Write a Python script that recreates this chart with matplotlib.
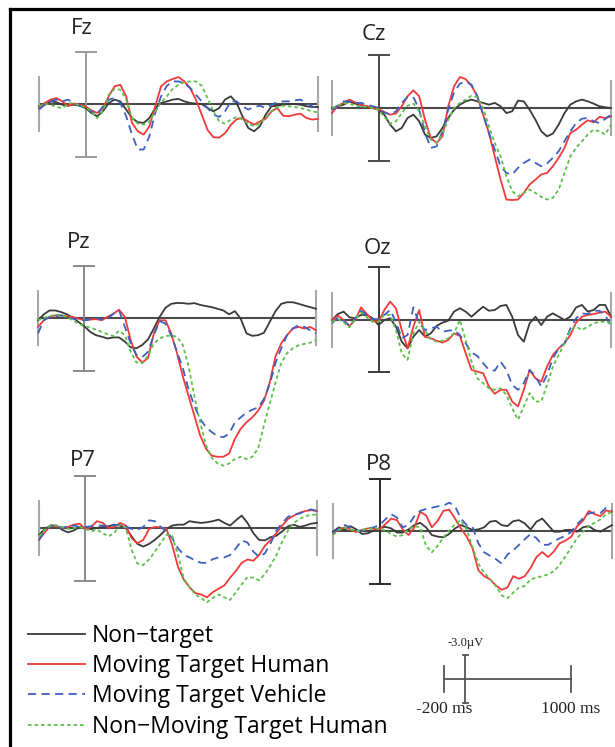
import numpy as np
import matplotlib
matplotlib.use("Agg")
import matplotlib.pyplot as plt
from matplotlib.lines import Line2D

# ---------------- data (µV, negative plotted upward) ----------------
time_ms = list(range(-200, 1001, 25))

labels = ["Non\u2212target", "Moving Target Human", "Moving Target Vehicle", "Non\u2212Moving Target Human"]
channels = ["Fz", "Cz", "Pz", "Oz", "P7", "P8"]

fz_nontarget = [0.13, 0.04, -0.15, -0.10, 0.04, 0.10, 0.04, 0.10, 0.23, 0.51, 0.70, 0.42, -0.06, -0.25, -0.15, 0.32, 0.80, 1.04, 1.08, 0.80, 0.23, -0.06, -0.15, -0.25, -0.29, -0.15, -0.06, -0.02, 0.0, 0.23, 0.42, 0.23, -0.25, -0.44, -0.06, 0.70, 1.37, 1.56, 1.27, 0.61, 0.13, 0.10, 0.04, 0.0, 0.0, 0.04, 0.13, 0.17, 0.17]
fz_mt_human = [0.23, -0.06, -0.25, -0.34, -0.15, 0.10, -0.02, 0.04, 0.13, 0.36, 0.51, 0.23, -0.44, -1.01, -1.10, -0.44, 1.08, 1.56, 1.75, 1.27, 0.13, -1.01, -1.29, -1.43, -1.54, -1.29, -0.91, -0.25, 0.61, 1.48, 1.90, 1.92, 1.67, 1.20, 0.87, 0.80, 1.00, 1.18, 1.00, 0.84, 0.42, 0.23, 0.67, 0.70, 0.61, 0.55, 0.80, 0.89, 0.85]
fz_mt_vehicle = [0.32, 0.04, -0.15, -0.25, -0.15, -0.25, -0.06, 0.10, 0.23, 0.42, 0.61, 0.13, -0.25, -0.34, -0.06, 0.70, 1.75, 2.60, 2.60, 1.84, 0.51, -0.44, -1.04, -1.29, -1.29, -1.20, -0.91, -0.53, -0.15, 0.23, 0.61, 0.74, 0.42, -0.15, -0.15, 0.13, 0.32, 0.17, 0.10, 0.23, 0.04, -0.10, -0.15, -0.15, -0.21, -0.25, -0.06, 0.13, 0.29]
fz_nmt_human = [0.13, -0.02, 0.04, 0.17, 0.23, -0.02, -0.06, 0.10, 0.17, 0.42, 0.80, 0.42, -0.53, -0.86, -0.82, -0.25, 0.80, 1.12, 1.18, 0.99, 0.42, -0.10, -0.44, -0.86, -1.10, -1.24, -1.29, -1.29, -1.04, -0.34, 0.42, 0.99, 1.12, 0.89, 0.74, 0.89, 1.12, 1.27, 1.12, 0.80, 0.42, 0.17, 0.10, 0.13, 0.17, 0.23, 0.32, 0.42, 0.48]

cz_nontarget = [0.0, -0.10, -0.19, -0.38, -0.25, -0.15, -0.10, 0.0, 0.10, 0.38, 0.95, 1.33, 1.14, 0.57, 0.38, 0.76, 1.52, 1.71, 1.62, 1.14, 0.57, 0.10, -0.19, -0.38, -0.48, -0.38, -0.29, -0.19, -0.29, -0.10, 0.29, 0.19, -0.42, -0.38, 0.10, 0.67, 1.33, 1.62, 1.46, 0.95, 0.29, -0.19, -0.38, -0.48, -0.38, -0.25, -0.10, -0.04, 0.0]
cz_mt_human = [0.29, -0.13, -0.29, -0.48, -0.32, -0.19, -0.10, 0.0, 0.06, 0.23, 0.38, 0.32, -0.10, -0.67, -1.01, -0.67, 0.67, 1.71, 2.00, 1.62, -0.10, -1.24, -1.77, -1.65, -1.27, -0.67, 0.38, 1.43, 2.76, 4.09, 5.23, 5.26, 5.23, 4.85, 4.37, 4.09, 3.80, 3.71, 3.33, 2.85, 2.28, 1.43, 1.24, 0.95, 0.70, 0.82, 0.51, 0.57, 0.48]
cz_mt_vehicle = [0.10, -0.13, -0.38, -0.38, -0.29, -0.29, -0.19, -0.10, 0.0, 0.25, 0.38, 0.19, -0.29, -0.63, -0.63, 0.10, 1.43, 2.28, 2.19, 1.33, 0.10, -0.89, -1.39, -1.52, -1.33, -0.67, 0.38, 1.43, 2.38, 3.33, 3.71, 3.80, 3.42, 3.14, 2.95, 3.14, 3.33, 3.17, 2.85, 2.47, 1.90, 1.33, 0.86, 0.61, 0.57, 0.76, 0.86, 0.63, 0.38]
cz_nmt_human = [0.0, -0.13, -0.29, -0.25, -0.13, -0.10, -0.06, 0.0, 0.10, 0.51, 0.89, 0.76, 0.29, -0.13, -0.25, 0.19, 1.05, 1.81, 1.96, 1.52, 0.67, 0.0, -0.29, -0.48, -0.70, -0.63, 0.0, 1.05, 2.00, 2.76, 3.90, 4.75, 5.04, 4.85, 4.66, 4.85, 5.08, 5.23, 5.13, 4.66, 3.71, 2.76, 2.28, 1.90, 1.52, 1.24, 1.33, 1.52, 0.95]

pz_nontarget = [0.13, -0.21, -0.43, -0.43, -0.34, -0.21, -0.02, 0.23, 0.47, 0.79, 0.98, 1.07, 1.17, 1.11, 1.11, 1.35, 1.67, 1.73, 1.54, 1.22, 0.60, -0.06, -0.58, -0.81, -0.86, -0.85, -0.81, -0.85, -0.75, -0.68, -0.62, -0.53, -0.43, -0.21, -0.39, 0.04, 0.88, 1.02, 0.98, 0.85, 0.23, -0.39, -0.81, -0.90, -0.90, -0.81, -0.71, -0.62, -0.53]
pz_mt_human = [0.51, 0.13, -0.06, -0.15, -0.15, -0.09, -0.06, 0.04, 0.13, 0.09, 0.06, 0.13, -0.06, -0.24, -0.47, -0.06, 1.26, 2.20, 2.54, 2.29, 0.88, 0.13, 0.13, 0.88, 2.01, 3.33, 4.46, 5.58, 6.71, 7.46, 7.87, 7.93, 7.93, 7.74, 6.90, 6.33, 5.96, 5.68, 5.30, 4.74, 3.70, 2.20, 1.45, 0.98, 0.60, 0.51, 0.60, 0.51, 0.70]
pz_mt_vehicle = [0.88, 0.13, -0.06, -0.09, -0.15, -0.06, 0.04, 0.09, 0.13, 0.08, -0.02, 0.09, 0.04, -0.24, -0.43, 0.51, 1.45, 2.11, 2.24, 1.92, 0.98, 0.17, 0.32, 0.98, 1.92, 2.86, 4.08, 5.02, 5.77, 6.24, 6.52, 6.75, 6.81, 6.62, 5.96, 5.68, 5.40, 5.24, 5.11, 4.64, 3.80, 2.58, 1.73, 0.98, 0.60, 0.41, 0.51, 0.70, 0.88]
pz_nmt_human = [0.13, -0.02, -0.09, -0.21, -0.15, -0.06, 0.13, 0.32, 0.47, 0.55, 0.66, 0.79, 0.92, 1.03, 0.73, 0.98, 1.92, 2.54, 2.58, 2.16, 1.45, 1.17, 1.03, 1.00, 1.07, 1.54, 2.76, 4.46, 5.96, 7.27, 7.99, 8.31, 8.44, 8.31, 8.06, 7.93, 8.06, 7.93, 7.46, 6.15, 4.92, 3.70, 2.58, 2.01, 1.73, 1.56, 1.48, 1.41, 1.26]

oz_nontarget = [0.0, -0.34, -0.48, -0.15, -0.10, -0.29, -0.29, -0.10, 0.29, 0.0, -0.10, 0.38, 1.24, 1.62, 0.95, 0.57, 0.95, 0.76, 0.34, 0.15, 0.04, -0.48, -0.67, -0.48, -0.19, -0.48, -0.76, -0.53, -0.57, -0.80, -0.86, -0.19, 0.86, 1.24, 0.19, -0.19, 0.29, -0.19, -0.38, -0.19, 0.0, -0.19, -0.72, -0.86, -0.48, -0.57, -0.86, -0.86, -0.19]
oz_mt_human = [0.0, -0.25, 0.0, 0.34, 0.0, -0.72, -0.34, 0.04, 0.10, -0.57, -1.05, -0.67, 0.57, 1.62, 0.38, -0.57, 0.95, 1.05, 1.18, 1.29, 1.14, 0.76, 0.91, 1.90, 2.85, 2.95, 3.04, 3.80, 4.22, 3.99, 3.99, 4.66, 4.94, 3.99, 2.85, 3.33, 3.52, 2.66, 2.00, 1.62, 1.33, 0.86, 0.15, -0.19, -0.29, -0.34, -0.42, -0.48, -0.19]
oz_mt_vehicle = [0.19, -0.15, 0.04, 0.34, -0.10, -0.53, -0.29, -0.06, -0.04, -0.29, -0.57, 0.10, 1.05, 0.86, -0.72, 0.19, 0.57, 0.48, 0.38, 0.67, 0.61, 0.57, 0.86, 1.33, 1.86, 2.05, 2.47, 2.85, 2.89, 2.38, 2.85, 3.71, 3.99, 3.61, 2.85, 3.23, 3.80, 3.14, 2.19, 1.62, 1.33, 0.48, -0.10, -0.38, -0.34, -0.53, -0.53, -0.29, 0.38]
oz_nmt_human = [0.10, -0.06, 0.13, 0.42, -0.06, -0.42, -0.15, 0.10, 0.10, -0.29, -0.29, 0.57, 1.90, 2.28, 0.76, 0.10, 0.57, 1.10, 1.24, 1.18, 1.05, 0.76, 0.0, 1.14, 2.38, 3.33, 3.61, 3.90, 3.99, 3.90, 4.28, 5.04, 5.70, 4.94, 4.18, 4.66, 4.66, 3.71, 2.66, 2.00, 1.33, 0.57, 0.38, 0.57, 0.38, 0.19, 0.10, 0.10, 0.19]

p7_nontarget = [0.39, 0.06, -0.14, -0.14, 0.10, 0.25, 0.14, -0.06, 0.0, 0.06, 0.0, -0.06, -0.10, -0.19, -0.14, 0.0, 0.48, 0.91, 1.06, 0.91, 0.68, 0.39, 0.06, -0.14, -0.19, -0.19, -0.39, -0.33, -0.29, -0.33, -0.39, -0.48, -0.29, -0.14, -0.44, -0.71, -0.29, 0.29, 0.68, 0.71, 0.52, 0.44, 0.19, -0.10, -0.19, -0.06, -0.14, -0.25, -0.29]
p7_mt_human = [0.68, 0.25, -0.14, -0.10, 0.0, -0.06, -0.19, -0.25, 0.06, -0.06, -0.39, -0.29, 0.0, -0.06, -0.29, -0.14, 0.58, 0.87, 0.68, 0.06, -0.06, -0.04, 0.06, 0.97, 2.22, 2.95, 3.38, 3.72, 3.80, 3.96, 3.67, 3.47, 3.28, 2.84, 2.45, 1.99, 1.80, 1.87, 1.54, 1.02, 0.68, 0.29, -0.14, -0.52, -0.71, -0.87, -0.97, -1.02, -0.97]
p7_mt_vehicle = [0.68, 0.14, -0.14, -0.10, 0.0, -0.10, -0.14, -0.06, -0.06, -0.10, -0.14, -0.14, -0.06, -0.17, -0.17, -0.10, 0.06, 0.10, -0.06, -0.44, -0.39, -0.06, 0.19, 0.58, 1.16, 1.54, 1.68, 1.87, 1.99, 1.99, 1.78, 1.68, 1.68, 1.54, 1.16, 0.71, 0.83, 1.35, 1.64, 1.45, 0.87, 0.14, -0.29, -0.64, -0.75, -0.83, -0.97, -1.06, -0.97]
p7_nmt_human = [0.48, 0.10, -0.14, -0.14, -0.06, 0.06, 0.0, -0.06, 0.06, 0.19, 0.10, 0.29, 0.48, 0.29, -0.19, 0.0, 1.25, 2.03, 2.12, 1.80, 1.35, 0.87, 0.39, 0.44, 1.54, 2.90, 3.38, 3.80, 4.00, 4.25, 4.00, 3.80, 3.96, 4.11, 3.67, 3.22, 2.80, 2.84, 2.99, 2.64, 2.12, 1.54, 0.77, 0.14, -0.29, -0.52, -0.68, -0.75, -0.77]

p8_nontarget = [0.04, -0.21, -0.06, -0.28, -0.09, 0.17, 0.13, -0.02, -0.15, -0.24, -0.15, 0.09, 0.09, -0.09, -0.34, -0.47, -0.21, 0.23, 0.32, 0.36, 0.17, -0.15, -0.34, -0.21, -0.06, -0.09, -0.21, -0.53, -0.58, -0.34, -0.28, -0.56, -0.62, -0.43, -0.09, -0.53, -0.71, -0.34, 0.04, 0.04, -0.06, -0.06, 0.04, -0.21, -0.28, -0.06, 0.04, -0.15, -0.34]
p8_mt_human = [0.13, -0.09, -0.21, -0.09, 0.06, -0.06, -0.15, -0.13, -0.09, -0.39, -0.71, -0.62, -0.09, 0.23, -0.21, -1.09, -0.90, -0.21, -0.58, -1.15, -1.22, -0.71, -0.15, 0.32, 0.98, 2.24, 2.58, 2.76, 3.10, 3.36, 3.23, 2.58, 2.73, 2.58, 2.11, 1.49, 1.20, 1.49, 1.17, 0.70, 0.55, 0.32, -0.28, -0.58, -1.15, -0.96, -0.85, -1.18, -1.09]
p8_mt_vehicle = [0.13, -0.15, -0.34, -0.21, -0.02, -0.02, -0.15, -0.21, -0.34, -0.66, -0.96, -0.77, -0.21, -0.34, -0.85, -1.15, -1.26, -1.33, -1.41, -1.45, -1.62, -1.41, -0.71, -0.34, -0.24, 0.70, 1.22, 1.41, 1.60, 1.86, 1.35, 1.11, 0.79, 0.47, 0.17, 0.41, 0.79, 0.79, 0.60, 0.41, 0.28, 0.04, -0.39, -0.71, -1.00, -1.07, -1.03, -1.33, -1.18]
p8_nmt_human = [0.23, -0.06, -0.19, -0.09, 0.02, -0.06, -0.13, -0.17, -0.13, -0.02, 0.17, 0.32, 0.23, -0.09, -0.28, -0.21, 0.85, 1.22, 0.85, 0.36, -0.02, -0.39, -0.62, -0.09, 0.92, 1.86, 2.39, 2.73, 3.14, 3.67, 3.85, 3.52, 3.23, 3.14, 2.76, 2.67, 2.58, 2.48, 2.30, 1.92, 1.45, 0.92, 0.41, 0.04, -0.28, -0.47, -0.66, -0.96, -1.09]

series_by_channel = {
    "Fz": [fz_nontarget, fz_mt_human, fz_mt_vehicle, fz_nmt_human],
    "Cz": [cz_nontarget, cz_mt_human, cz_mt_vehicle, cz_nmt_human],
    "Pz": [pz_nontarget, pz_mt_human, pz_mt_vehicle, pz_nmt_human],
    "Oz": [oz_nontarget, oz_mt_human, oz_mt_vehicle, oz_nmt_human],
    "P7": [p7_nontarget, p7_mt_human, p7_mt_vehicle, p7_nmt_human],
    "P8": [p8_nontarget, p8_mt_human, p8_mt_vehicle, p8_nmt_human],
}

# ---------------- styling / layout ----------------
W, H = 615, 747
DPI = 100
PX_PER_UV = 17.5
colors = ["#3a3a3a", "#f03a3a", "#3f5fc0", "#5cc04a"]
styles = [dict(ls="-"), dict(ls="-"), dict(ls=(0, (4.5, 3))), dict(ls=(0, (2.0, 1.6)))]
LW = 1.3

# panel geometry in pixels: x_left, x_right, baseline_y, axis colour, title gap above cap, title dx
panels = {
    "Fz": (39, 318, 104, "#9a9a9a", 17, -4),
    "Cz": (332, 611, 108, "#4a4a4a", 15, -5),
    "Pz": (38, 316, 318, "#8a8a8a", 18, -6),
    "Oz": (332, 611, 320, "#3a3a3a", 13, -1),
    "P7": (39, 317, 528, "#8a8a8a", 9, -2),
    "P8": (333, 612, 531, "#2a2a2a", 9, -1),
}

plt.rcParams["font.family"] = ["Open Sans", "DejaVu Sans"]
fig = plt.figure(figsize=(W / DPI, H / DPI), dpi=DPI)
fig.patch.set_facecolor("white")

# outer frame (top and left edges)
fig.add_artist(Line2D([10 / W, 1.0], [1 - 9 / H, 1 - 9 / H], color="black", lw=2.3, transform=fig.transFigure))
fig.add_artist(Line2D([10 / W, 10 / W], [1 - 9 / H, 0.0], color="black", lw=2.3, transform=fig.transFigure))

UV_TOP, UV_BOT = -5.0, 9.0
cap_ms = 10 * 1200 / 279.0
ms_per_px = 1200 / 279.0

for ch in channels:
    xl, xr, base, acol, tgap, tdx = panels[ch]
    top_px = base + UV_TOP * PX_PER_UV
    bot_px = base + UV_BOT * PX_PER_UV
    ax = fig.add_axes([xl / W, 1 - bot_px / H, (xr - xl) / W, (bot_px - top_px) / H])
    ax.set_xlim(time_ms[0], time_ms[-1])
    ax.set_ylim(UV_BOT, UV_TOP)
    ax.axis("off")
    # baseline, end ticks, vertical amplitude axis
    ax.plot([time_ms[0], time_ms[-1]], [0, 0], color="#4a4a4a", lw=1.5, zorder=1, clip_on=False)
    for xe in (time_ms[0], time_ms[-1]):
        ax.plot([xe, xe], [-1.55, 1.55], color="#a8a8a8", lw=1.5, zorder=1, clip_on=False)
    ax.plot([0, 0], [-3, 3], color=acol, lw=1.4, zorder=1, clip_on=False)
    for yc in (-3, 3):
        ax.plot([-cap_ms, cap_ms], [yc, yc], color=acol, lw=1.4, zorder=1, clip_on=False)
    for i, s in enumerate(series_by_channel[ch]):
        ax.plot(time_ms, s, color=colors[i], lw=LW, zorder=3 + i, clip_on=False,
                solid_joinstyle="round", **styles[i])
    ax.text(tdx * ms_per_px, -3 - tgap / PX_PER_UV, ch, ha="center", va="baseline",
            fontsize=16, color="#222222")

# legend
handles = [Line2D([], [], color=colors[i], lw=LW, **styles[i]) for i in range(4)]
fig.legend(handles, labels, loc="upper left", bbox_to_anchor=(28 / W, 1 - 624 / H),
           frameon=False, fontsize=16.5, handlelength=2.5, handletextpad=0.3,
           labelspacing=0.27, borderaxespad=0.0, borderpad=0.0)

# scale bar (uses the same ms / µV units)
sx0, sx1 = 444, 571
sbase = 679
s_px_per_uv = 8.0
sax = fig.add_axes([sx0 / W, 1 - (sbase + 3 * s_px_per_uv) / H, (sx1 - sx0) / W, 6 * s_px_per_uv / H])
sax.set_xlim(-200, 1000)
sax.set_ylim(3, -3)
sax.axis("off")
sax.plot([-200, 1000], [0, 0], color="#555555", lw=1.3, clip_on=False)
for xe in (-200, 1000):
    sax.plot([xe, xe], [-1.6, 1.6], color="#555555", lw=1.3, clip_on=False)
sax.plot([0, 0], [-3, 3], color="#555555", lw=1.3, clip_on=False)
for yc in (-3, 3):
    sax.plot([-25, 25], [yc, yc], color="#555555", lw=1.3, clip_on=False)
sax.text(0, -4.5, "-3.0\u00b5V", ha="center", va="center", fontsize=9, family="Liberation Serif", color="#222222")
sax.text(-200, 3.7, "-200 ms", ha="center", va="center", fontsize=12.5, family="Liberation Serif", color="#222222")
sax.text(1000, 3.7, "1000 ms", ha="center", va="center", fontsize=12.5, family="Liberation Serif", color="#222222")

fig.savefig("out.png", dpi=DPI, facecolor="white")
